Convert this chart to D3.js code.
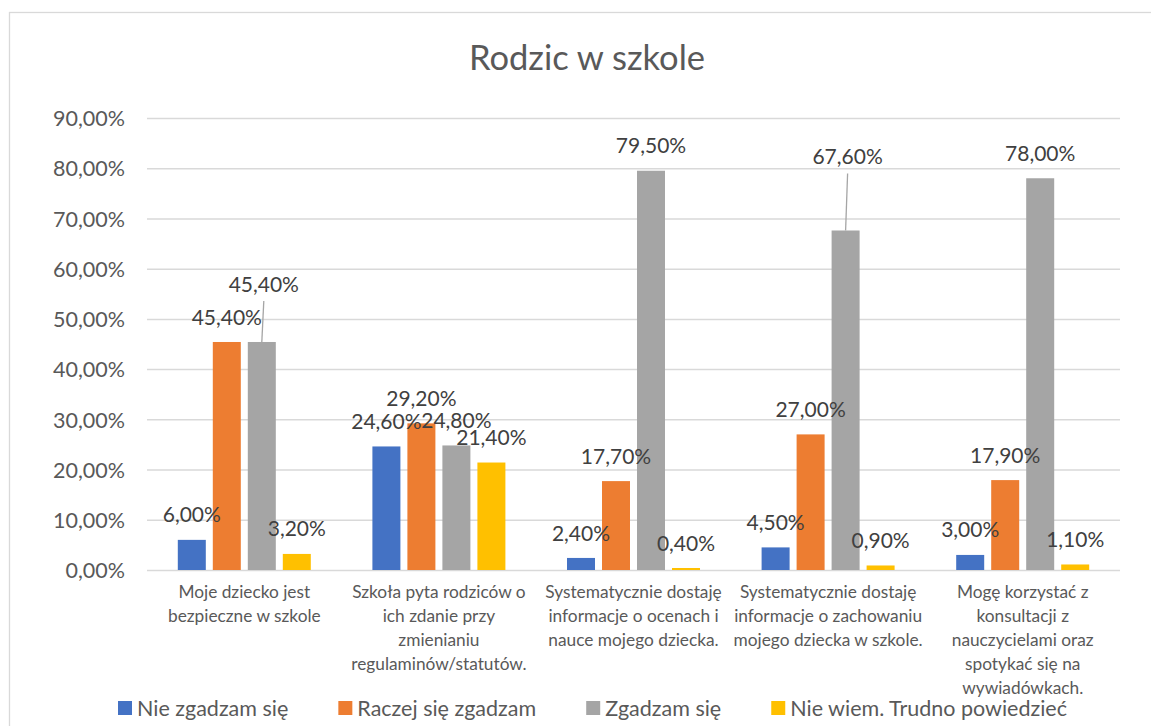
<!DOCTYPE html>
<html lang="pl">
<head>
<meta charset="UTF-8">
<title>Rodzic w szkole</title>
<script src="https://d3js.org/d3.v7.min.js"></script>
<style>
  body { margin: 0; background: #fff; }
  svg text { font-family: Lato, "Open Sans", sans-serif; }
</style>
</head>
<body>
<div id="chart"></div>
<script>
// dane
var categories = [
  "Moje dziecko jest\nbezpieczne w szkole",
  "Szkoła pyta rodziców o\nich zdanie przy\nzmienianiu\nregulaminów/statutów.",
  "Systematycznie dostaję\ninformacje o ocenach i\nnauce mojego dziecka.",
  "Systematycznie dostaję\ninformacje o zachowaniu\nmojego dziecka w szkole.",
  "Mogę korzystać z\nkonsultacji z\nnauczycielami oraz\nspotykać się na\nwywiadówkach."
];
var seriesNames = ["Nie zgadzam się", "Raczej się zgadzam", "Zgadzam się", "Nie wiem. Trudno powiedzieć"];
var nieZgadzam = [6.0, 24.6, 2.4, 4.5, 3.0];
var raczejZgadzam = [45.4, 29.2, 17.7, 27.0, 17.9];
var zgadzam = [45.4, 24.8, 79.5, 67.6, 78.0];
var nieWiem = [3.2, 21.4, 0.4, 0.9, 1.1];
var yTicks = [0, 10, 20, 30, 40, 50, 60, 70, 80, 90];

var colors = ["#4472C4", "#ED7D31", "#A5A5A5", "#FFC000"];
var allSeries = [nieZgadzam, raczejZgadzam, zgadzam, nieWiem];

// etykiety przesunięte ręcznie (z linią odniesienia)
var movedLabels = [
  { s: 2, c: 0, dx: 2, lift: 33 },
  { s: 2, c: 3, dx: 2, lift: 49 }
];

var W = 1151, H = 726;
var svg = d3.select("#chart").append("svg")
    .attr("width", W)
    .attr("height", H);

svg.append("rect")
    .attr("x", 9.5).attr("y", 12.5)
    .attr("width", W + 20).attr("height", H + 20)
    .attr("fill", "#fff")
    .attr("stroke", "#d9d9d9")
    .attr("stroke-width", 1.3);

var plot = { left: 147, right: 1120, top: 118, bottom: 570 };

var x0 = d3.scaleBand()
    .domain(d3.range(categories.length))
    .range([plot.left, plot.right])
    .padding(0);

var inset = 30.8;
var x1 = d3.scaleBand()
    .domain(d3.range(seriesNames.length))
    .range([inset, x0.bandwidth() - inset])
    .paddingInner(0.2)
    .paddingOuter(0);

var y = d3.scaleLinear()
    .domain([0, 90])
    .range([plot.bottom, plot.top]);

var pl = d3.formatLocale({ decimal: ",", thousands: " ", grouping: [3], currency: ["", " zł"] });
var fmt = function(v) { return pl.format(".2f")(v) + "%"; };

// tytuł
svg.append("text")
    .attr("x", 587).attr("y", 70)
    .attr("text-anchor", "middle")
    .attr("fill", "#595959")
    .style("font-size", "34.5px")
    .text("Rodzic w szkole");

// oś Y z siatką
var yAxis = d3.axisLeft(y)
    .tickValues(yTicks)
    .tickSize(-(plot.right - plot.left))
    .tickPadding(22)
    .tickFormat(fmt);

var gy = svg.append("g")
    .attr("transform", "translate(" + plot.left + ",0)")
    .call(yAxis);
gy.select(".domain").remove();
gy.selectAll(".tick line")
    .attr("stroke", "#d9d9d9")
    .attr("stroke-width", 1.5);
gy.selectAll(".tick text")
    .attr("fill", "#595959")
    .style("font-size", "21.5px")
    .attr("dy", "0.36em");

// słupki
var groups = svg.append("g").selectAll("g")
    .data(categories)
    .enter().append("g")
    .attr("transform", function(d, i) { return "translate(" + x0(i) + ",0)"; });

groups.selectAll("rect")
    .data(function(d, c) { return allSeries.map(function(s, si) { return { s: si, c: c, v: s[c] }; }); })
    .enter().append("rect")
    .attr("x", function(d) { return x1(d.s); })
    .attr("width", x1.bandwidth())
    .attr("y", function(d) { return y(d.v); })
    .attr("height", function(d) { return y(0) - y(d.v); })
    .attr("fill", function(d) { return colors[d.s]; });

// etykiety danych
var labelData = [];
allSeries.forEach(function(s, si) {
  s.forEach(function(v, c) { labelData.push({ s: si, c: c, v: v }); });
});

function moved(d) {
  return movedLabels.find(function(m) { return m.s === d.s && m.c === d.c; });
}

var labels = svg.append("g");
labelData.forEach(function(d) {
  var cx = x0(d.c) + x1(d.s) + x1.bandwidth() / 2;
  var cy = y(d.v) - 25;
  var m = moved(d);
  if (m) {
    labels.append("line")
        .attr("x1", cx + m.dx).attr("y1", cy - m.lift + 17)
        .attr("x2", cx).attr("y2", y(d.v))
        .attr("stroke", "#a5a5a5")
        .attr("stroke-width", 1.3);
    cx += m.dx;
    cy -= m.lift;
  }
  labels.append("text")
      .attr("x", cx).attr("y", cy)
      .attr("dy", "0.36em")
      .attr("text-anchor", "middle")
      .attr("fill", "#404040")
      .style("font-size", "21px")
      .text(fmt(d.v));
});

// etykiety kategorii
var catText = svg.append("g").selectAll("text")
    .data(categories)
    .enter().append("text")
    .attr("text-anchor", "middle")
    .attr("fill", "#595959")
    .style("font-size", "17.3px")
    .attr("transform", function(d, i) { return "translate(" + (x0(i) + x0.bandwidth() / 2) + ",598)"; });

catText.selectAll("tspan")
    .data(function(d) { return d.split("\n"); })
    .enter().append("tspan")
    .attr("x", 0)
    .attr("dy", function(d, i) { return i === 0 ? 0 : 24; })
    .text(function(d) { return d; });

// legenda
var legend = svg.append("g").attr("transform", "translate(0,708)");
var items = legend.selectAll("g")
    .data(seriesNames)
    .enter().append("g");

items.append("rect")
    .attr("y", -7)
    .attr("width", 14).attr("height", 14)
    .attr("fill", function(d, i) { return colors[i]; });

items.append("text")
    .attr("x", 19)
    .attr("dy", "0.36em")
    .attr("fill", "#595959")
    .style("font-size", "21.5px")
    .text(function(d) { return d; });

var legLeft = 118, legRight = 1067;
var widths = [];
items.each(function() { widths.push(19 + d3.select(this).select("text").node().getComputedTextLength()); });
var gap = (legRight - legLeft - d3.sum(widths)) / (widths.length - 1);
var pos = legLeft;
items.attr("transform", function(d, i) {
  var t = "translate(" + pos + ",0)";
  pos += widths[i] + gap;
  return t;
});
</script>
</body>
</html>
